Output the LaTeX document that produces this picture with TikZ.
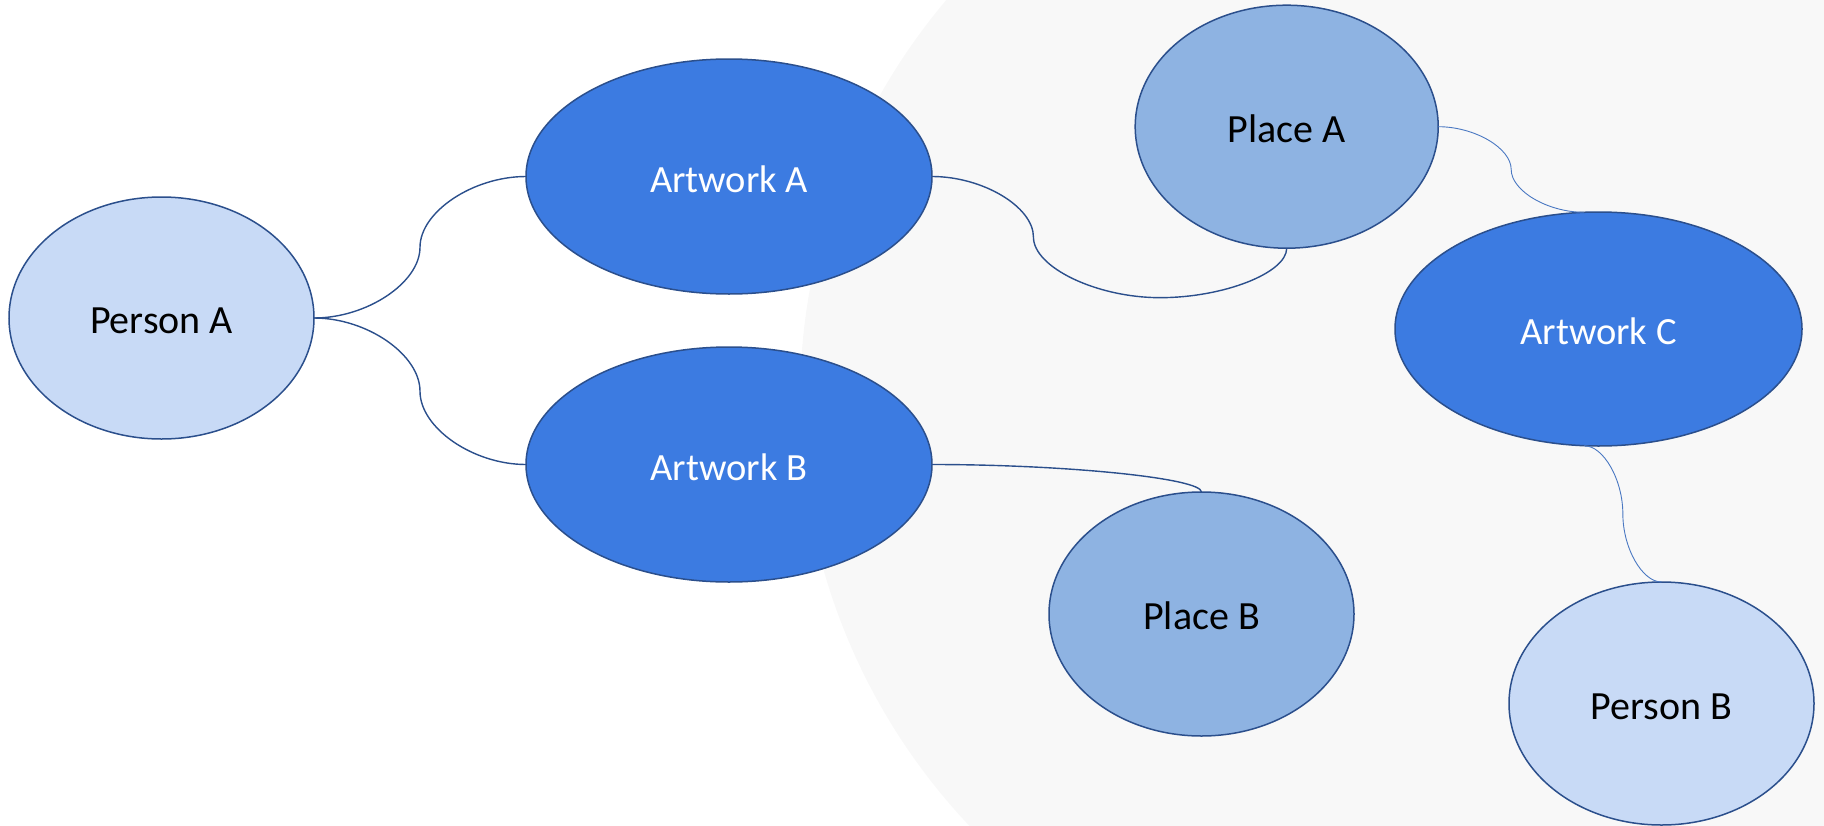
\documentclass[tikz,border=0pt]{standalone}
\usepackage{fontspec}
\setmainfont{Carlito}
\usetikzlibrary{shapes.geometric,calc}
\definecolor{edgecol}{HTML}{2B4F8C}
\definecolor{lightedge}{HTML}{4A78C2}
\definecolor{personfill}{HTML}{C8DAF6}
\definecolor{placefill}{HTML}{8EB3E2}
\definecolor{artfill}{HTML}{3C7BE1}
\definecolor{wmgray}{HTML}{F8F8F8}
\tikzset{
  blob/.style={ellipse, draw=edgecol, line width=1.5pt, inner sep=0pt, outer sep=0pt,
    text height=31pt, text depth=0pt},
  person/.style={blob, fill=personfill, minimum width=305pt, minimum height=242pt,
    font=\fontsize{40pt}{42pt}\selectfont, text=black},
  place/.style={blob, fill=placefill, minimum width=303pt, minimum height=243pt,
    font=\fontsize{40pt}{42pt}\selectfont, text=black},
  artwork/.style={blob, fill=artfill, minimum width=406pt, minimum height=235pt,
    font=\fontsize{38.5pt}{42pt}\selectfont, text=white},
  conn/.style={draw=edgecol, line width=1.4pt},
  lightconn/.style={draw=lightedge, line width=0.9pt}
}
\newcommand\cconn[3][conn]{\draw[#1] let \p1=(#2), \p2=(#3) in (\p1)
  .. controls ({(3*\x1+\x2)/4},\y1) and ({(\x1+\x2)/2},{(3*\y1+\y2)/4}) .. ({(\x1+\x2)/2},{(\y1+\y2)/2})
  .. controls ({(\x1+\x2)/2},{(\y1+3*\y2)/4}) and ({(\x1+3*\x2)/4},\y2) .. (\p2);}
\begin{document}
\begin{tikzpicture}[x=1pt,y=-1pt]
\useasboundingbox (0,0) rectangle (1824,825);
\begin{scope}
  \clip (0,0) rectangle (1824,825);
  \fill[wmgray] (1420,400) circle[radius=620pt];
\end{scope}

\node[person]  (pa) at (161.5,318)   {Person A};
\node[artwork] (aa) at (729,176.5)   {Artwork A};
\node[artwork] (ab) at (729,464.5)   {Artwork B};
\node[place]   (pla) at (1286.7,126.7) {Place A};
\node[artwork, minimum width=407pt, minimum height=234pt] (ac) at (1598.5,329) {Artwork C};
\node[place, minimum width=305pt, minimum height=244pt] (plb) at (1201.5,614) {Place B};
\node[person, minimum height=243pt] (pb) at (1661.5,703.5) {Person B};

% Person A to the two artworks
\cconn{pa.east}{aa.west}
\cconn{pa.east}{ab.west}

% Artwork A to Place A (loop under Place A)
\draw[conn] let \p1=(aa.east), \p2=(pla.south),
  \p3=({\x1+0.286*(\x2-\x1)},{\y1+1.69*(\y2-\y1)}) in (\p1)
  .. controls ({(\x1+\x3)/2},\y1) and (\x3,{(3*\y1+\y3)/4}) .. (\x3,{(\y1+\y3)/2})
  .. controls (\x3,{(\y1+3*\y3)/4}) and ({(3*\x3+\x2)/4},\y3) .. ({(\x3+\x2)/2},\y3)
  .. controls ({(\x3+3*\x2)/4},\y3) and (\x2,{(\y2+\y3)/2}) .. (\p2);

% Artwork B to Place B
\draw[conn] let \p1=(ab.east), \p2=(plb.north) in (\p1)
  .. controls ({(\x1+\x2)/2},\y1) and (\x2,{(\y1+\y2)/2}) .. (\p2);

% Place A to Artwork C, Artwork C to Person B
\cconn[lightconn]{pla.east}{ac.97}
\cconn[lightconn]{ac.263}{pb.north}
\end{tikzpicture}
\end{document}
